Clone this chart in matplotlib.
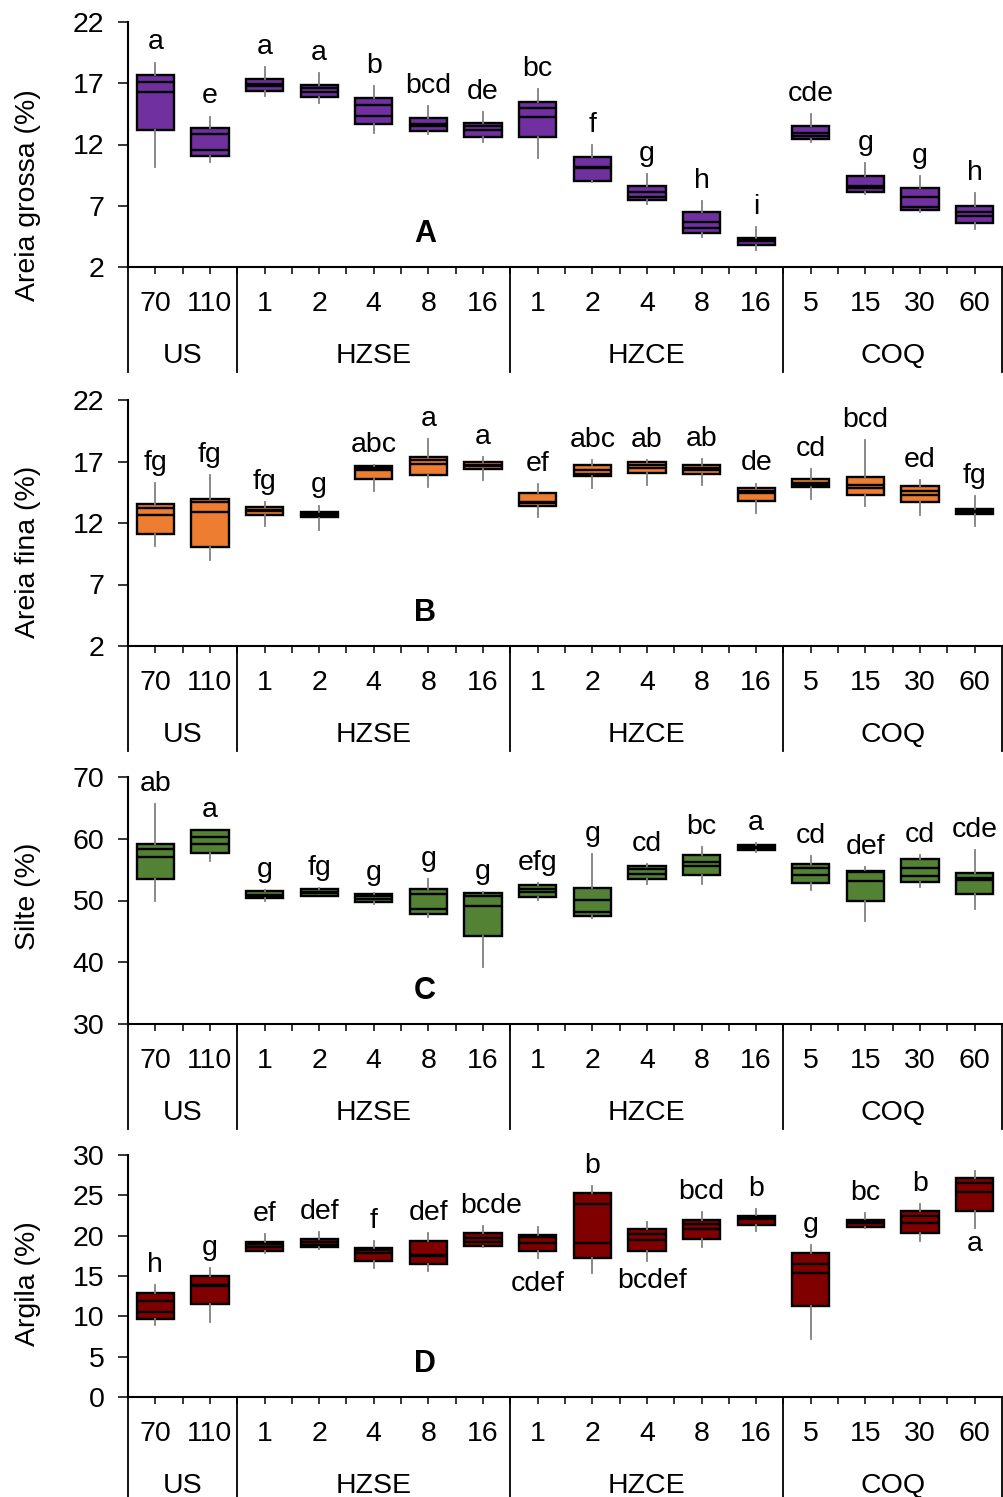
import matplotlib
matplotlib.use('Agg')
import matplotlib.pyplot as plt
from matplotlib import transforms as mtransforms
import numpy as np

plt.rcParams['font.family'] = ['Liberation Sans', 'DejaVu Sans']

# ---------------- data ----------------
categories = ['70', '110', '1', '2', '4', '8', '16', '1', '2', '4', '8', '16', '5', '15', '30', '60']
groups = ['US', 'HZSE', 'HZCE', 'COQ']
group_sizes = [2, 5, 5, 4]

# Panel A - Areia grossa (%)
ag_low = [10.14, 10.6, 15.96, 15.41, 12.96, 12.83, 12.17, 10.93, 8.96, 7.14, 4.42, 3.39, 12.23, 7.96, 6.47, 5.08]
ag_q1 = [13.18, 11.09, 16.39, 15.85, 13.65, 13.13, 12.63, 12.58, 9.04, 7.47, 4.81, 3.8, 12.45, 8.15, 6.65, 5.62]
ag_m1 = [16.26, 11.55, 16.80, 16.31, 14.35, 13.50, 13.20, 14.27, 10.05, 7.75, 5.16, 4.10, 12.69, 8.42, 6.92, 6.16]
ag_m2 = [17.13, 12.83, 16.95, 16.59, 15.22, 13.70, 13.50, 14.96, 10.15, 8.10, 5.65, 4.20, 12.97, 8.64, 7.74, 6.47]
ag_q3 = [17.67, 13.32, 17.35, 16.86, 15.77, 14.19, 13.73, 15.5, 11.0, 8.61, 6.47, 4.4, 13.51, 9.46, 8.48, 7.0]
ag_high = [18.68, 14.27, 18.3, 17.86, 16.78, 15.14, 14.63, 16.5, 11.96, 9.59, 7.39, 5.29, 14.47, 10.47, 9.43, 8.01]
ag_letters = ['a', 'e', 'a', 'a', 'b', 'bcd', 'de', 'bc', 'f', 'g', 'h', 'i', 'cde', 'g', 'g', 'h']

# Panel B - Areia fina (%)
af_low = [10.11, 9.03, 11.73, 11.46, 14.57, 14.9, 15.52, 12.49, 14.84, 15.11, 15.06, 12.81, 13.95, 13.35, 12.68, 11.73]
af_q1 = [11.11, 10.06, 12.68, 12.46, 15.57, 15.87, 16.41, 13.41, 15.84, 16.06, 16.0, 13.82, 14.92, 14.3, 13.68, 12.76]
af_m1 = [12.68, 12.9, 12.95, 12.55, 16.27, 16.82, 16.6, 13.6, 16.0, 16.46, 16.27, 14.44, 15.1, 14.84, 14.3, 12.87]
af_m2 = [13.22, 13.68, 13.05, 12.7, 16.46, 17.14, 16.74, 13.71, 16.27, 16.74, 16.46, 14.63, 15.25, 15.11, 14.57, 12.98]
af_q3 = [13.55, 13.95, 13.27, 12.87, 16.65, 17.36, 16.92, 14.44, 16.68, 17.0, 16.71, 14.84, 15.57, 15.7, 14.98, 13.14]
af_high = [15.25, 15.87, 13.68, 13.41, 16.73, 18.85, 17.36, 15.17, 17.09, 17.09, 17.22, 15.2, 16.38, 18.71, 15.52, 14.17]
af_letters = ['fg', 'fg', 'fg', 'g', 'abc', 'a', 'a', 'ef', 'abc', 'ab', 'ab', 'de', 'cd', 'bcd', 'ed', 'fg']

# Panel C - Silte (%)
si_low = [49.84, 56.32, 49.99, 50.65, 49.4, 47.4, 39.3, 50.11, 47.14, 52.7, 52.7, 57.78, 51.73, 46.76, 52.16, 48.65]
si_q1 = [53.46, 57.68, 50.38, 50.76, 49.73, 47.84, 44.33, 50.54, 47.57, 53.46, 54.05, 58.22, 52.81, 49.95, 52.92, 51.08]
si_m1 = [56.97, 59.19, 50.65, 51.2, 50.22, 48.65, 49.19, 51.35, 48.11, 54.27, 55.51, 58.5, 54.05, 53.19, 53.89, 53.4]
si_m2 = [58.38, 60.22, 50.92, 51.35, 50.65, 51.03, 50.76, 51.89, 50.11, 55.08, 56.16, 58.65, 55.24, 54.6, 55.24, 53.62]
si_q3 = [59.19, 61.35, 51.46, 51.89, 51.03, 51.89, 51.19, 52.54, 52.0, 55.62, 57.4, 59.03, 55.94, 54.81, 56.76, 54.43]
si_high = [65.6, 61.46, 51.62, 52.0, 51.19, 53.51, 51.3, 52.81, 57.57, 55.89, 58.65, 59.3, 57.13, 55.4, 57.3, 58.11]
si_letters = ['ab', 'a', 'g', 'fg', 'g', 'g', 'g', 'efg', 'g', 'cd', 'bc', 'a', 'cd', 'def', 'cd', 'cde']

# Panel D - Argila (%)
ar_low = [8.9, 9.31, 17.88, 18.3, 15.93, 15.6, 18.54, 17.18, 15.31, 16.84, 18.54, 20.61, 7.25, 21.0, 19.37, 20.9]
ar_q1 = [9.64, 11.59, 18.09, 18.54, 16.84, 16.43, 18.71, 18.13, 17.26, 18.13, 19.58, 21.31, 11.3, 21.1, 20.36, 23.09]
ar_m1 = [10.55, 13.7, 18.54, 18.83, 17.8, 17.45, 19.24, 19.12, 19.04, 19.45, 20.78, 22.02, 15.39, 21.52, 21.52, 25.37]
ar_m2 = [11.92, 13.85, 18.96, 19.16, 18.21, 17.6, 19.66, 19.78, 23.92, 20.16, 21.44, 22.3, 16.43, 21.8, 22.43, 26.49]
ar_q3 = [12.91, 15.02, 19.24, 19.58, 18.42, 19.37, 20.28, 20.07, 25.25, 20.78, 21.93, 22.43, 17.88, 21.93, 23.05, 27.11]
ar_high = [13.87, 16.02, 20.16, 20.49, 19.33, 20.28, 21.23, 21.03, 26.15, 21.72, 22.89, 23.3, 18.83, 22.84, 23.92, 28.06]
ar_letters = ['h', 'g', 'ef', 'def', 'f', 'def', 'bcde', 'cdef', 'b', 'bcdef', 'bcd', 'b', 'g', 'bc', 'b', 'a']

ylabels = ['Areia grossa (%)', 'Areia fina (%)', 'Silte (%)', 'Argila (%)']
panel_tags = ['A', 'B', 'C', 'D']
yticks_list = [[2, 7, 12, 17, 22], [2, 7, 12, 17, 22], [30, 40, 50, 60, 70], [0, 5, 10, 15, 20, 25, 30]]
colors = ['#7030A0', '#ED7D31', '#548235', '#800000']

# ---------------- layout ----------------
W, H = 1004, 1497
FS = 20.5
panel_px = [(22, 267), (400, 646), (777, 1024), (1155, 1397)]
ylabel_cy = [195, 552, 896, 1284]
# letters placed below the box in panel D (index -> offset in points)
below = {3: {7: -9, 9: -5, 15: -2}}
label_dx = {3: {6: 6, 9: 4}}

fig = plt.figure(figsize=(W / 100, H / 100), dpi=100)

data = [
    (ag_low, ag_q1, ag_m1, ag_m2, ag_q3, ag_high, ag_letters),
    (af_low, af_q1, af_m1, af_m2, af_q3, af_high, af_letters),
    (si_low, si_q1, si_m1, si_m2, si_q3, si_high, si_letters),
    (ar_low, ar_q1, ar_m1, ar_m2, ar_q3, ar_high, ar_letters),
]

bounds = np.concatenate([[0], np.cumsum(group_sizes)]) - 0.5
pos = np.arange(len(categories))

for p, (low, q1, m1, m2, q3, high, letters) in enumerate(data):
    top, bot = panel_px[p]
    ax = fig.add_axes([128 / W, 1 - bot / H, 874 / W, (bot - top) / H])
    stats = [dict(whislo=low[i], q1=q1[i], med=m1[i], mean=m2[i], q3=q3[i],
                  whishi=high[i], fliers=[]) for i in range(len(categories))]
    ax.bxp(stats, positions=pos, widths=0.68, patch_artist=True,
           showmeans=True, meanline=True, showcaps=False, showfliers=False,
           manage_ticks=False,
           boxprops=dict(facecolor=colors[p], edgecolor='black', linewidth=1.7),
           medianprops=dict(color='black', linewidth=1.7),
           meanprops=dict(color='black', linestyle='-', linewidth=1.7),
           whiskerprops=dict(color='#808080', linewidth=1.3))
    yt = yticks_list[p]
    ax.set_xlim(-0.5, len(categories) - 0.5)
    ax.set_ylim(yt[0], yt[-1])
    ax.set_yticks(yt)
    ax.spines['top'].set_visible(False)
    ax.spines['right'].set_visible(False)
    ax.spines['left'].set_linewidth(1.5)
    ax.spines['bottom'].set_linewidth(1.5)
    ax.set_xticks(pos)
    ax.set_xticklabels([])
    ax.set_xticks(np.arange(len(categories) - 1) + 0.5, minor=True)
    ax.tick_params(axis='x', which='both', direction='out', length=5, width=1.1)
    ax.tick_params(axis='y', direction='out', length=7, width=1.1,
                   labelsize=FS, pad=10)

    # category labels
    for i, c in enumerate(categories):
        ax.annotate(c, xy=(i, 0), xycoords=('data', 'axes fraction'),
                    xytext=(0, -37 * 0.72), textcoords='offset points',
                    ha='center', va='center', fontsize=FS)
    # group labels
    for g, name in enumerate(groups):
        cx = (bounds[g] + bounds[g + 1]) / 2
        ax.annotate(name, xy=(cx, 0), xycoords=('data', 'axes fraction'),
                    xytext=(0, -89 * 0.72), textcoords='offset points',
                    ha='center', va='center', fontsize=FS)
    # separators
    trans = mtransforms.blended_transform_factory(ax.transData, ax.transAxes)
    frac = 105 / (bot - top)
    for xs in bounds:
        ax.plot([xs, xs], [0, -frac], transform=trans, clip_on=False,
                color='black', lw=1.3)

    # significance letters
    for i, t in enumerate(letters):
        dx = label_dx.get(p, {}).get(i, 0)
        if i in below.get(p, {}):
            ax.annotate(t, xy=(i, low[i]), xytext=(dx, below[p][i]),
                        textcoords='offset points', ha='center', va='top',
                        fontsize=FS)
        else:
            ax.annotate(t, xy=(i, high[i]), xytext=(dx, 9.5),
                        textcoords='offset points', ha='center', va='baseline',
                        fontsize=FS)

    ax.text(0.34, 0.135, panel_tags[p], transform=ax.transAxes, ha='center',
            va='center', fontsize=22, fontweight='bold')
    fig.text(28 / W, 1 - ylabel_cy[p] / H, ylabels[p], rotation=90,
             ha='center', va='center', fontsize=FS)

fig.savefig('out.png', dpi=100)
